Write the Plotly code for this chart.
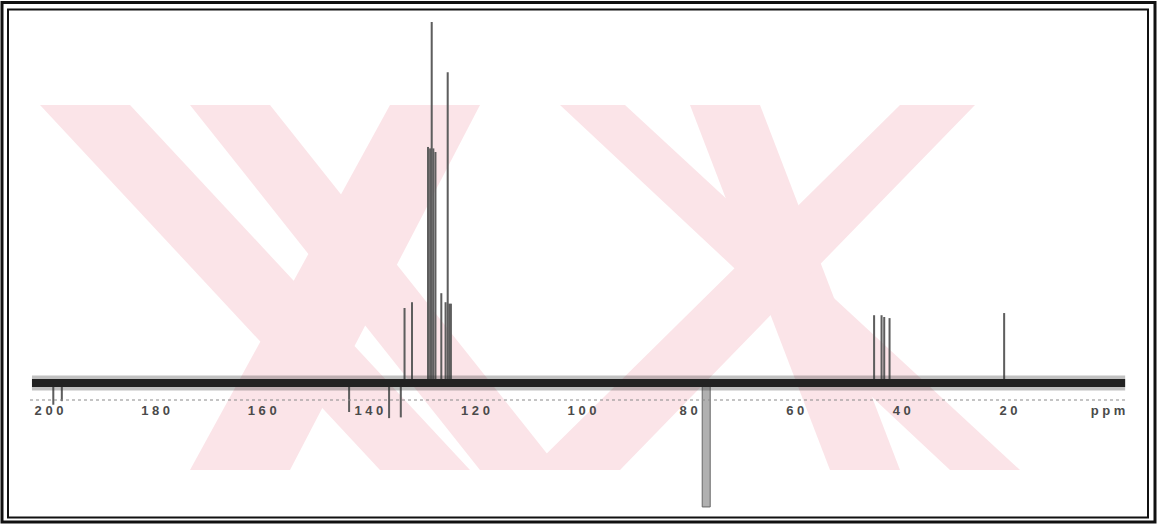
import plotly.graph_objects as go

# 13C spectrum: peak positions (ppm) and signed intensities (tallest = 100)
peak_ppm = [199.2, 197.6, 143.7, 136.2, 134.0,
            133.3, 131.9,
            128.9, 128.5, 128.2, 127.9, 127.5,
            126.4, 125.6, 125.2, 124.9, 124.6,
            45.2, 43.8, 43.3, 42.3, 20.8]
peak_int = [-6, -5, -8, -9.7, -9.5,
            20.8, 22.4,
            65.4, 65.0, 100.0, 65.0, 64.0,
            24.9, 22.4, 86.1, 22.0, 22.0,
            18.8, 18.8, 18.3, 18.0, 19.4]

# solvent signal (inverted)
solvent_ppm = [76.7]
solvent_int = [-34.3]

# recorded spectral window
baseline_ppm = [203.2, -1.9]
baseline_int = [0, 0]

tick_vals = [200, 180, 160, 140, 120, 100, 80, 60, 40, 20, 1.3]
tick_text = ["2 0 0", "1 8 0", "1 6 0", "1 4 0", "1 2 0", "1 0 0",
             "8 0", "6 0", "4 0", "2 0", "p p m"]

W, H = 1161, 525


def px(x):
    return x / W


def py(y):
    return (H - y) / H


fig = go.Figure()

# noisy baseline band
fig.add_trace(go.Scatter(x=baseline_ppm, y=baseline_int, mode="lines",
                         line=dict(color="rgba(50,50,50,0.3)", width=15),
                         hoverinfo="skip", showlegend=False))
fig.add_trace(go.Scatter(x=baseline_ppm, y=baseline_int, mode="lines",
                         line=dict(color="#222222", width=8),
                         hoverinfo="skip", showlegend=False))

fig.add_trace(go.Bar(x=peak_ppm, y=peak_int, width=0.38,
                     marker=dict(color="#5e5e5e", line=dict(width=0)),
                     showlegend=False))
fig.add_trace(go.Bar(x=solvent_ppm, y=solvent_int, width=1.5,
                     marker=dict(color="#b0b0b0", line=dict(color="#666", width=1)),
                     showlegend=False))

shapes = []

# pale watermark bands
wm = "#fbe4e8"
bands = [
    [(40, 105), (130, 105), (470, 470), (380, 470)],
    [(190, 105), (270, 105), (560, 470), (480, 470)],
    [(390, 105), (480, 105), (290, 470), (190, 470)],
    [(560, 105), (625, 105), (1020, 470), (950, 470)],
    [(690, 105), (760, 105), (900, 470), (830, 470)],
    [(900, 105), (975, 105), (620, 470), (530, 470)],
]
for b in bands:
    path = "M " + " L ".join(f"{px(x)},{py(y)}" for x, y in b) + " Z"
    shapes.append(dict(type="path", path=path, xref="paper", yref="paper",
                       fillcolor=wm, line=dict(width=0), layer="below"))

# dotted scale line under the spectrum
shapes.append(dict(type="line", xref="paper", yref="paper",
                   x0=px(30), x1=px(1125), y0=py(400), y1=py(400),
                   line=dict(color="#8a8a8a", width=1, dash="dot")))

# double frame
for (x0, y0, x1, y1, w) in [(2, 2.5, 1155, 522, 3), (8, 9.5, 1148, 517.5, 2)]:
    shapes.append(dict(type="rect", xref="paper", yref="paper",
                       x0=px(x0), x1=px(x1), y0=py(y0), y1=py(y1),
                       line=dict(color="#111", width=w), fillcolor="rgba(0,0,0,0)"))

fig.update_layout(
    width=W, height=H,
    margin=dict(l=0, r=0, t=0, b=0),
    paper_bgcolor="white", plot_bgcolor="white",
    barmode="overlay",
    shapes=shapes,
    xaxis=dict(range=[209.2, -8.63], showgrid=False, zeroline=False,
               showline=False, ticks="", anchor="free",
               position=py(401),
               tickvals=tick_vals, ticktext=tick_text,
               tickfont=dict(family="Liberation Sans", size=13, color="#4a4a4a",
                             weight="bold")),
    yaxis=dict(range=[-39.3, 106.1], showgrid=False, zeroline=False,
               showline=False, showticklabels=False, ticks=""),
)

fig.write_html("out.html")
